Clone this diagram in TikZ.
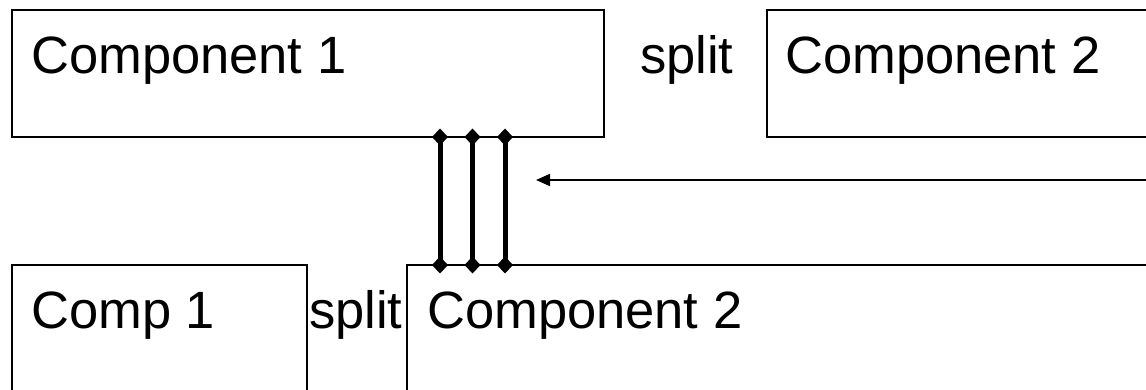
\documentclass[tikz,border=0pt]{standalone}
\usepackage{fontspec}
\setmainfont{Liberation Sans}
\usetikzlibrary{arrows.meta}
\begin{document}
\begin{tikzpicture}[x=1pt,y=-1pt,
  box/.style={draw,line width=1.6pt,inner sep=0pt,outer sep=0pt,anchor=north west},
  lbl/.style={font=\fontsize{52.5}{60}\selectfont,inner sep=0pt,anchor=base west},
  link/.style={line width=5pt,{Diamond[length=17pt,width=16pt]}-{Diamond[length=17pt,width=16pt]},shorten <=-8.5pt,shorten >=-8.5pt},
  arr/.style={line width=1.8pt,-{Triangle[length=14pt,width=12pt]}}]
\useasboundingbox (0,0) rectangle (1146,390);
\clip (0,0) rectangle (1146,390);
% boxes
\node[box,minimum width=592pt,minimum height=127pt] (c1top) at (12,10) {};
\node[box,minimum width=500pt,minimum height=127pt] (c2top) at (767,10) {};
\node[box,minimum width=295pt,minimum height=200pt] (c1bot) at (12,265) {};
\node[box,minimum width=800pt,minimum height=200pt] (c2bot) at (407,265) {};
% labels
\node[lbl] (l1) at (31,74) {Component 1};
\node[lbl] (s1) at (640,74) {split};
\node[lbl] (l2) at (785,74) {Component 2};
\node[lbl] (l3) at (31,328) {Comp 1};
\node[lbl] (s2) at (309,328) {split};
\node[lbl] (l4) at (427,328) {Component 2};
% connector ends
\coordinate (a1) at (440,137); \coordinate (b1) at (440,265);
\coordinate (a2) at (472.5,137); \coordinate (b2) at (472.5,265);
\coordinate (a3) at (505,137); \coordinate (b3) at (505,265);
\draw[link] (a1) -- (b1);
\draw[link] (a2) -- (b2);
\draw[link] (a3) -- (b3);
% arrow
\coordinate (ps) at (1150,180);
\coordinate (pe) at (536,180);
\draw[arr] (ps) -- (pe);
\end{tikzpicture}
\end{document}
